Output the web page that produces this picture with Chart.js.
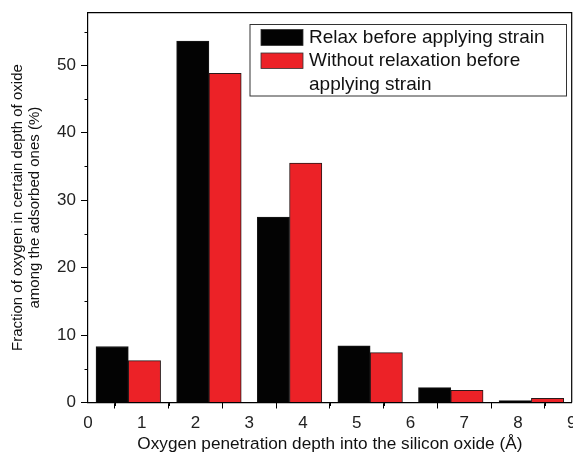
<!DOCTYPE html>
<html>
<head>
<meta charset="utf-8">
<script src="https://cdn.jsdelivr.net/npm/chart.js@4.4.1/dist/chart.umd.min.js"></script>
<style>
  html, body { margin: 0; padding: 0; background: #fff; }
  #wrap { width: 573px; height: 453px; }
</style>
</head>
<body>
<div id="wrap"><canvas id="chart" width="573" height="453"></canvas></div>
<script>
// data
const binCenters = [0.75, 2.25, 3.75, 5.25, 6.75, 8.25];
const relaxFirst = [8.3, 53.6, 27.5, 8.4, 2.2, 0.3];
const noRelax = [6.2, 48.8, 35.5, 7.4, 1.8, 0.6];
const xTicks = [0, 1, 2, 3, 4, 5, 6, 7, 8, 9];
const yTicks = [0, 10, 20, 30, 40, 50];
const xMinor = [0.5, 1.5, 2.5, 3.5, 4.5, 5.5, 6.5, 7.5, 8.5];
const yMinor = [5, 15, 25, 35, 45, 55];
const seriesNames = ['Relax before applying strain', 'Without relaxation before', 'applying strain'];

const FONT = 'Arial, "Liberation Sans", sans-serif';

// frame on top/right + minor ticks
const framePlugin = {
    id: 'frame',
    afterDraw(chart) {
        const { ctx, chartArea: a, scales } = chart;
        ctx.save();
        ctx.strokeStyle = '#000';
        ctx.lineWidth = 1.2;
        ctx.beginPath();
        ctx.moveTo(a.left, a.top);
        ctx.lineTo(a.right, a.top);
        ctx.lineTo(a.right, a.bottom);
        ctx.stroke();
        ctx.lineWidth = 1;
        ctx.beginPath();
        xMinor.forEach(v => {
            const x = Math.round(scales.x.getPixelForValue(v)) + 0.5;
            ctx.moveTo(x, a.bottom);
            ctx.lineTo(x, a.bottom + 3.5);
        });
        yMinor.forEach(v => {
            const y = Math.round(scales.y.getPixelForValue(v)) + 0.5;
            ctx.moveTo(a.left, y);
            ctx.lineTo(a.left - 3.5, y);
        });
        ctx.stroke();
        ctx.restore();
    }
};

// boxed legend like the original
const legendBox = {
    id: 'legendBox',
    afterDraw(chart) {
        const ctx = chart.ctx;
        const ds = chart.data.datasets;
        ctx.save();
        ctx.strokeStyle = '#333';
        ctx.lineWidth = 1;
        ctx.strokeRect(250, 24.5, 316.5, 71.5);
        ctx.lineWidth = 0.8;
        ctx.fillStyle = ds[0].backgroundColor;
        ctx.fillRect(261, 29.5, 42, 16);
        ctx.strokeRect(261, 29.5, 42, 16);
        ctx.fillStyle = ds[1].backgroundColor;
        ctx.fillRect(261, 53, 42, 15.5);
        ctx.strokeRect(261, 53, 42, 15.5);
        ctx.fillStyle = '#111';
        ctx.font = '19px ' + FONT;
        ctx.textBaseline = 'middle';
        ctx.fillText(seriesNames[0], 309, 38);
        ctx.fillText(seriesNames[1], 309, 61);
        ctx.fillText(seriesNames[2], 309, 84.5);
        ctx.restore();
    }
};

const noEdgePadding = s => {
    s.paddingLeft = 0;
    s.paddingRight = 0;
    s.paddingTop = 0;
    s.paddingBottom = 0;
};

new Chart(document.getElementById('chart'), {
    type: 'bar',
    data: {
        datasets: [{
            label: seriesNames[0],
            data: binCenters.map((x, i) => ({ x: x, y: relaxFirst[i] })),
            backgroundColor: '#030303',
            borderColor: '#1a1a1a',
            borderWidth: 1
        }, {
            label: seriesNames[1] + ' ' + seriesNames[2],
            data: binCenters.map((x, i) => ({ x: x, y: noRelax[i] })),
            backgroundColor: '#ec2227',
            borderColor: '#2a1a1a',
            borderWidth: 1
        }]
    },
    options: {
        responsive: false,
        animation: false,
        devicePixelRatio: 1,
        layout: { padding: { top: 12.7, right: 1.3, left: 0, bottom: 0 } },
        datasets: {
            bar: { barThickness: 32.3 }
        },
        plugins: {
            legend: { display: false },
            tooltip: { enabled: false }
        },
        scales: {
            x: {
                type: 'linear',
                min: 0,
                max: 9,
                offset: false,
                afterBuildTicks: s => { s.ticks = xTicks.map(v => ({ value: v })); },
                afterFit: s => { s.height = 50.5; noEdgePadding(s); },
                grid: { drawOnChartArea: false, tickLength: 6, color: '#000', lineWidth: 1 },
                border: { color: '#000', width: 1.2 },
                ticks: { color: '#222', font: { family: FONT, size: 17 }, padding: 5, maxRotation: 0 },
                title: {
                    display: true,
                    text: 'Oxygen penetration depth into the silicon oxide (Å)',
                    color: '#111',
                    font: { family: FONT, size: 17.2, lineHeight: 1.05 },
                    padding: { top: 0, bottom: 0 }
                }
            },
            y: {
                min: 0,
                max: 57.8,
                afterBuildTicks: s => { s.ticks = yTicks.map(v => ({ value: v })); },
                afterFit: s => { s.width = 88; noEdgePadding(s); },
                grid: { drawOnChartArea: false, tickLength: 7, color: '#000', lineWidth: 1 },
                border: { color: '#000', width: 1.2 },
                ticks: { color: '#222', font: { family: FONT, size: 17 }, padding: 5 },
                title: {
                    display: true,
                    text: ['Fraction of oxygen in certain depth of oxide', 'among the adsorbed ones (%)'],
                    color: '#111',
                    font: { family: FONT, size: 15, lineHeight: 1.13 },
                    padding: { top: 9.5, bottom: 0 }
                }
            }
        }
    },
    plugins: [framePlugin, legendBox]
});
</script>
</body>
</html>
